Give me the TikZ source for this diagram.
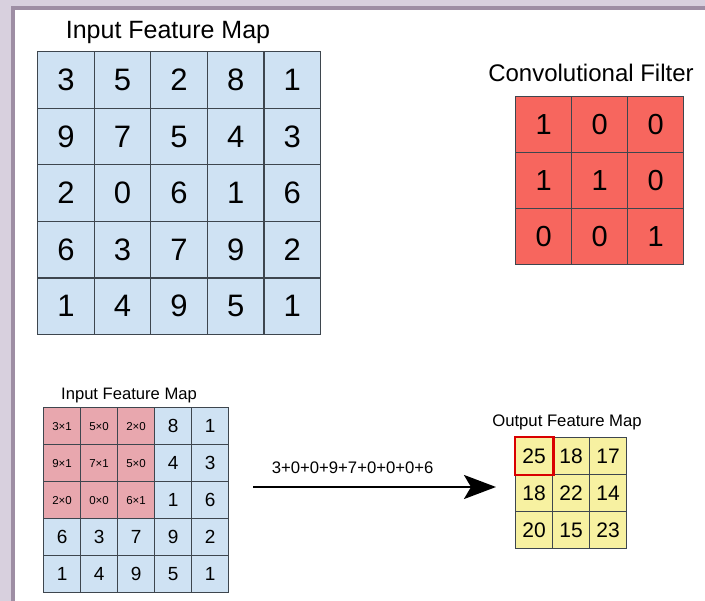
\documentclass[tikz,border=0pt]{standalone}
\usepackage{fontspec}
\setmainfont{Liberation Sans}
\usetikzlibrary{arrows.meta}
\definecolor{frameL}{RGB}{216,208,222}
\definecolor{frameD}{RGB}{158,142,164}
\definecolor{mapblue}{RGB}{207,226,243}
\definecolor{filtred}{RGB}{247,102,94}
\definecolor{mulpink}{RGB}{232,167,174}
\definecolor{outyel}{RGB}{247,241,161}
\definecolor{gridln}{RGB}{62,70,78}
\tikzset{
  cell/.style={draw=gridln,line width=1.2pt,minimum size=#1,inner sep=0pt,anchor=north west},
  ttl/.style={inner sep=0pt,anchor=base},
}
\begin{document}
\begin{tikzpicture}[x=1pt,y=-1pt]
\useasboundingbox(0,0)rectangle(705,601);
% frame
\fill[frameL](0,0)rectangle(705,601);
\fill[frameD](11,6)rectangle(705,601);
\fill[white](15,10)rectangle(706,602);
\pgfmathsetmacro{\kbig}{56.6}
\pgfmathsetmacro{\kfil}{56}
\pgfmathsetmacro{\ksml}{37}
% input feature map (top)
\node[ttl,font=\fontsize{25}{25}\selectfont](tin) at (168,38.5){Input Feature Map};
\foreach \r/\row in {0/{3,5,2,8,1},1/{9,7,5,4,3},2/{2,0,6,1,6},3/{6,3,7,9,2},4/{1,4,9,5,1}}{
  \foreach \a [count=\c from 0] in \row{
    \node[cell=\kbig pt,fill=mapblue,font=\fontsize{31}{31}\selectfont](a\r\c) at (37+\c*\kbig,51+\r*\kbig){\a};}}
% filter
\node[ttl,font=\fontsize{24}{24}\selectfont](tfil) at (591,82){Convolutional Filter};
\foreach \r/\row in {0/{1,0,0},1/{1,1,0},2/{0,0,1}}{
  \foreach \a [count=\c from 0] in \row{
    \node[cell=\kfil pt,fill=filtred,font=\fontsize{29}{29}\selectfont](f\r\c) at (515+\c*\kfil,96+\r*\kfil){\a};}}
% input feature map (bottom), first 3x3 holds the products
\node[ttl,font=\fontsize{16.6}{17}\selectfont](tbin) at (129,400){Input Feature Map};
\foreach \r/\row in {0/{3×1,5×0,2×0,8,1},1/{9×1,7×1,5×0,4,3},2/{2×0,0×0,6×1,1,6},3/{6,3,7,9,2},4/{1,4,9,5,1}}{
  \foreach \a [count=\c from 0] in \row{
    \pgfmathtruncatemacro{\kin}{(\r<3)&&(\c<3)}
    \ifnum\kin=1
      \node[cell=\ksml pt,fill=mulpink,font=\fontsize{11.5}{12}\selectfont](b\r\c) at (43+\c*\ksml,407+\r*\ksml){\a};
    \else
      \node[cell=\ksml pt,fill=mapblue,font=\fontsize{19}{19}\selectfont](b\r\c) at (43+\c*\ksml,407+\r*\ksml){\a};
    \fi}}
% output feature map
\node[ttl,font=\fontsize{16.7}{17}\selectfont](tout) at (567,427){Output Feature Map};
\foreach \r/\row in {0/{25,18,17},1/{18,22,14},2/{20,15,23}}{
  \foreach \a [count=\c from 0] in \row{
    \node[cell=\ksml pt,fill=outyel,font=\fontsize{21}{21}\selectfont](o\r\c) at (515+\c*\ksml,437+\r*\ksml){\a};}}
\draw[red!85!black,line width=2.6pt](o00.north west)rectangle(o00.south east);
% arrow
\coordinate(arrS) at (253,487);
\coordinate(arrE) at (496,487);
\draw[line width=2.6pt,-{Stealth[length=32pt,width=24pt,inset=7pt]}](arrS)--(arrE)
  node[pos=0.41,above=9pt,font=\fontsize{16.7}{17}\selectfont]{3+0+0+9+7+0+0+0+6};
\end{tikzpicture}
\end{document}
